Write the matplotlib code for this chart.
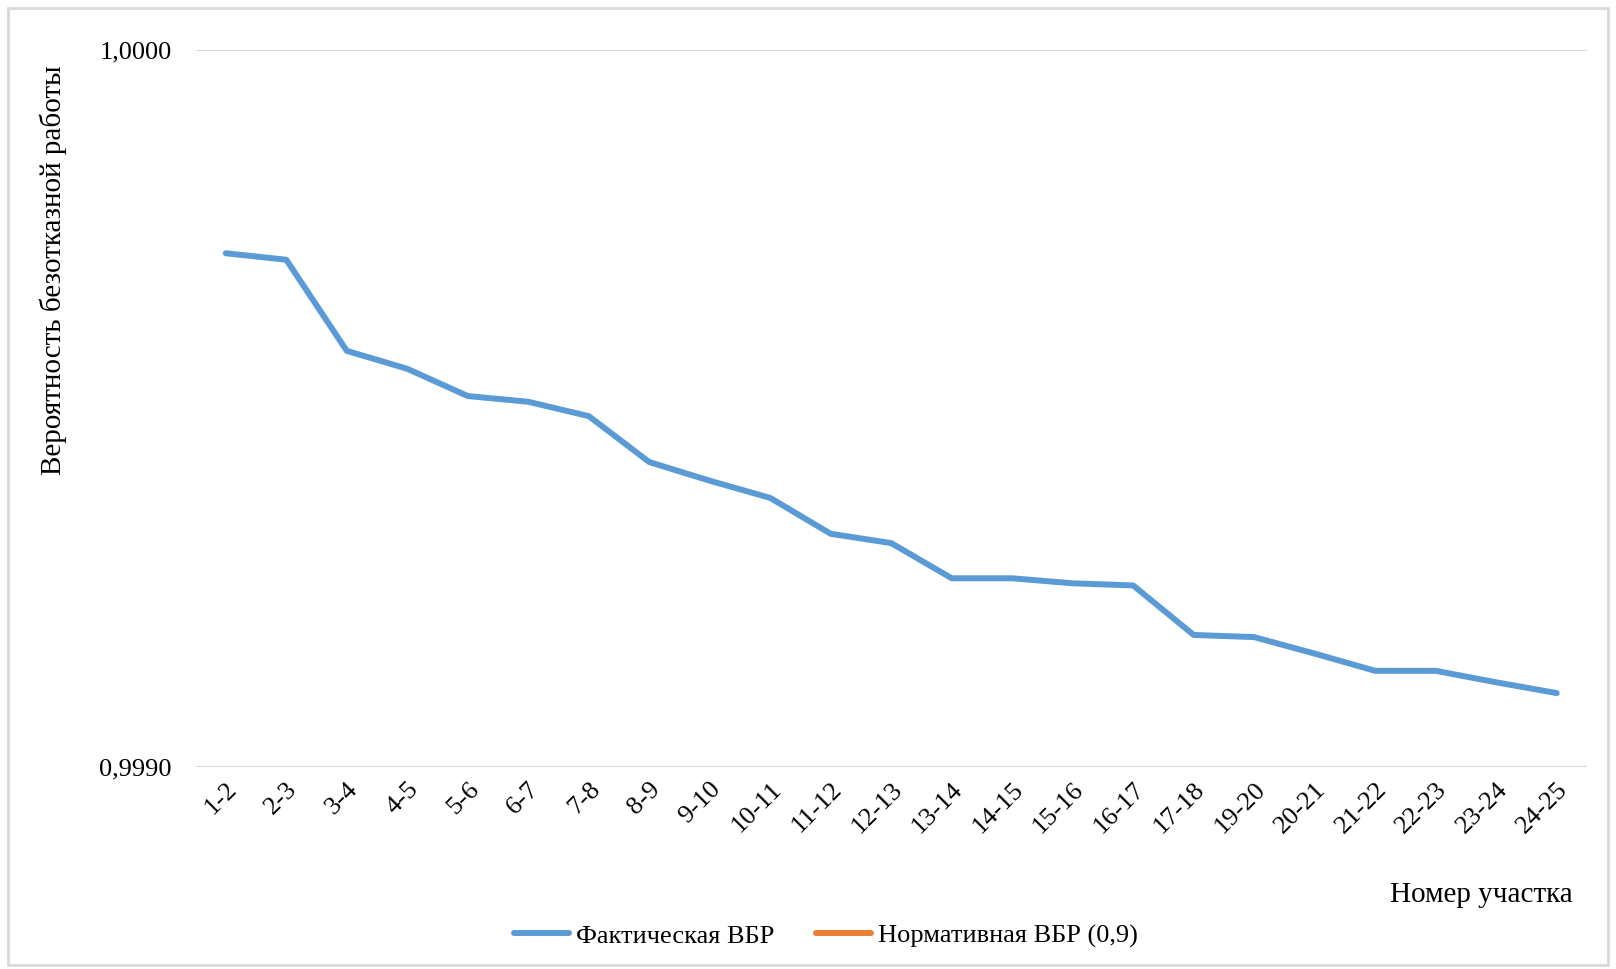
import matplotlib
matplotlib.use("Agg")
import matplotlib.pyplot as plt
from matplotlib.patches import Rectangle

categories = ["1-2", "2-3", "3-4", "4-5", "5-6", "6-7", "7-8", "8-9", "9-10", "10-11",
              "11-12", "12-13", "13-14", "14-15", "15-16", "16-17", "17-18", "19-20",
              "20-21", "21-22", "22-23", "23-24", "24-25"]
actual = [0.999716, 0.999707, 0.999580, 0.999555, 0.999517, 0.999509, 0.999489,
          0.999425, 0.999399, 0.999375, 0.999325, 0.999312, 0.999263, 0.999263,
          0.999256, 0.999253, 0.999184, 0.999181, 0.999158, 0.999134, 0.999134,
          0.999118, 0.999103]
normative = [0.9] * len(categories)
yticks = [0.9990, 1.0000]
ytick_labels = ["0,9990", "1,0000"]

plt.rcParams['font.family'] = ['Liberation Serif', 'DejaVu Serif']

fig = plt.figure(figsize=(16.16, 9.69), dpi=100)
ax = fig.add_axes([0.121, 0.2085, 0.861, 0.7404])

x = list(range(len(categories)))
ax.plot(x, actual, color="#5b9bd5", lw=4.3, solid_capstyle="round", label="Фактическая ВБР")
ax.plot(x, normative, color="#ed7d31", lw=4.3, solid_capstyle="round", label="Нормативная ВБР (0,9)")

ax.set_xlim(-0.5, len(categories) - 0.5)
ax.set_ylim(0.9990, 1.0000)
ax.set_yticks(yticks)
ax.set_yticklabels(ytick_labels, fontsize=19)
ax.set_xticks(x)
ax.set_xticklabels(categories, rotation=45, ha="right", rotation_mode="anchor", fontsize=19)
ax.tick_params(axis="y", length=0, pad=17)
ax.tick_params(axis="x", length=0, pad=8)
for s in ax.spines.values():
    s.set_visible(False)
ax.grid(axis="y", color="#d9d9d9", lw=1.5)
ax.set_axisbelow(True)

fig.text(0.033, 0.721, "Вероятность безотказной работы", rotation=90, ha="center", va="center", fontsize=21)
fig.text(0.973, 1 - 895 / 969, "Номер участка", ha="right", va="center", fontsize=21)

leg = fig.legend(loc="center", bbox_to_anchor=(0.511, 1 - 936 / 969), ncol=2, frameon=False,
                 fontsize=19, handlelength=2.1, handletextpad=0.25, columnspacing=1.6)

fig.patches.append(Rectangle((0.005, 0.004), 0.99, 0.988, transform=fig.transFigure,
                             fill=False, edgecolor="#d9d9d9", lw=2))

fig.savefig("out.png", dpi=100)
